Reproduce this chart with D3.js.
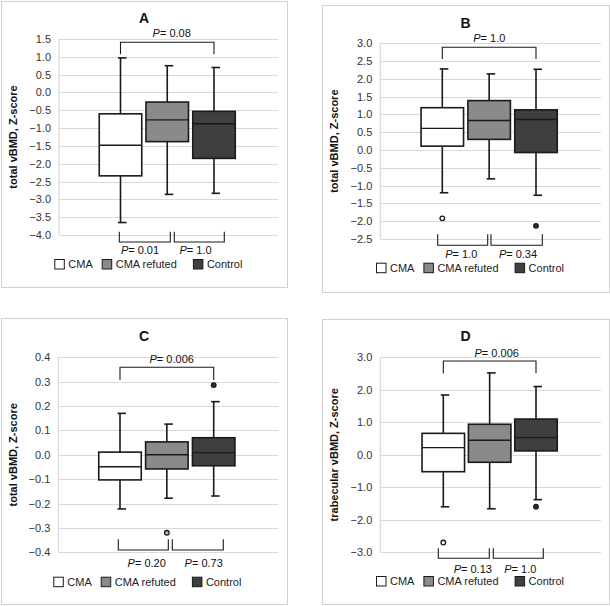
<!DOCTYPE html>
<html><head><meta charset="utf-8">
<script src="https://cdn.jsdelivr.net/npm/d3@7"></script>
<style>body{margin:0;background:#fff}svg{display:block}text{font-family:"Liberation Sans",Arial,sans-serif}</style>
</head><body><svg id="c" width="610" height="606"></svg>
<script>
// ---------- DATA ----------
const categories = ["CMA", "CMA refuted", "Control"];
const panelTitles = ["A", "B", "C", "D"];
const yTitles = ["total vBMD, Z-score", "total vBMD, Z-score", "total vBMD, Z-score", "trabecular vBMD, Z-score"];

const aTicks = [1.5, 1.0, 0.5, 0.0, -0.5, -1.0, -1.5, -2.0, -2.5, -3.0, -3.5, -4.0];
const aMax = [0.97, 0.75, 0.70];
const aQ3 = [-0.60, -0.27, -0.53];
const aMed = [-1.48, -0.77, -0.88];
const aQ1 = [-2.34, -1.38, -1.85];
const aMin = [-3.65, -2.86, -2.83];
const aOutliers = [];
const aP = ["0.08", "0.01", "1.0"];

const bTicks = [3.0, 2.5, 2.0, 1.5, 1.0, 0.5, 0.0, -0.5, -1.0, -1.5, -2.0, -2.5];
const bMax = [2.28, 2.14, 2.27];
const bQ3 = [1.19, 1.39, 1.13];
const bMed = [0.61, 0.83, 0.86];
const bQ1 = [0.11, 0.30, -0.07];
const bMin = [-1.20, -0.81, -1.27];
const bOutliers = [[0, -1.92], [2, -2.13]];
const bP = ["1.0", "1.0", "0.34"];

const cTicks = [0.4, 0.3, 0.2, 0.1, 0.0, -0.1, -0.2, -0.3, -0.4];
const cMax = [0.170, 0.126, 0.218];
const cQ3 = [0.011, 0.053, 0.070];
const cMed = [-0.049, 0.000, 0.009];
const cQ1 = [-0.103, -0.058, -0.045];
const cMin = [-0.222, -0.178, -0.169];
const cOutliers = [[1, -0.32], [2, 0.286]];
const cP = ["0.006", "0.20", "0.73"];

const dTicks = [3.0, 2.0, 1.0, 0.0, -1.0, -2.0, -3.0];
const dMax = [1.84, 2.52, 2.10];
const dQ3 = [0.66, 0.94, 1.10];
const dMed = [0.22, 0.45, 0.53];
const dQ1 = [-0.52, -0.23, 0.12];
const dMin = [-1.60, -1.66, -1.38];
const dOutliers = [[0, -2.70], [2, -1.60]];
const dP = ["0.006", "0.13", "1.0"];

const seriesFill = ["#ffffff", "#8a8a8a", "#3f3f3f"];

// ---------- LAYOUT ----------
const panels = [
  {data:[aMin,aQ1,aMed,aQ3,aMax], out:aOutliers, ticks:aTicks, p:aP,
   frame:[1,1,286,286], x0:59, x1:278, yT:39, yB:235, c:[120.5,214], titleY:23,
   topY:42.3, topLeg:54.3, topLab:[171.7,37],
   br:[[119.3,170.3],[174.3,224.3]], brY:242, brLeg:231.7, labs:[140,195.5], labY:254,
   legY:264, legX:54.3},
  {data:[bMin,bQ1,bMed,bQ3,bMax], out:bOutliers, ticks:bTicks, p:bP,
   frame:[322,5,287,287], x0:380.3, x1:601, yT:43.3, yB:239, c:[442.3,536], titleY:27.7,
   topY:47.3, topLeg:59, topLab:[489.3,41.7],
   br:[[437.7,487.7],[491,542.3]], brY:245.3, brLeg:234.3, labs:[461.3,518], labY:258.3,
   legY:267.7, legX:376},
  {data:[cMin,cQ1,cMed,cQ3,cMax], out:cOutliers, ticks:cTicks, p:cP,
   frame:[1,318,286,286], x0:58.3, x1:278.3, yT:357.3, yB:552.3, c:[120,213.7], titleY:340.7,
   topY:367.3, topLeg:380, topLab:[171.7,363.3],
   br:[[118.3,168.3],[172.3,223.3]], brY:550, brLeg:539.3, labs:[146.7,203.7], labY:567.3,
   legY:581.7, legX:53.3},
  {data:[dMin,dQ1,dMed,dQ3,dMax], out:dOutliers, ticks:dTicks, p:dP,
   frame:[322,319,287,285], x0:380.3, x1:601, yT:357.3, yB:552.3, c:[443.3,536], titleY:340.7,
   topY:361, topLeg:373.3, topLab:[496.7,356.7],
   br:[[438.3,489.3],[493.3,543.3]], brY:558.3, brLeg:548.3, labs:[472.8,520.3], labY:573.3,
   legY:581, legX:376}
];

const svg = d3.select("#c");
const ink = "#1a1a1a";
const fmt = d3.format(".1f");

panels.forEach((P, pi) => {
  const g = svg.append("g");
  const [fx, fy, fw, fh] = P.frame;
  g.append("rect").attr("x", fx + 0.5).attr("y", fy + 0.5).attr("width", fw).attr("height", fh)
    .attr("fill", "#fff").attr("stroke", "#d0d0d0").attr("stroke-width", 1);

  const ext = d3.extent(P.ticks);
  const y = d3.scaleLinear().domain(ext).range([P.yB, P.yT]);
  const x = d3.scalePoint().domain(categories).range(P.c);
  const bw = 42.5;

  // gridlines
  g.append("g").selectAll("line").data(P.ticks).join("line")
    .attr("x1", P.x0).attr("x2", P.x1)
    .attr("y1", d => Math.round(y(d)) + 0.5).attr("y2", d => Math.round(y(d)) + 0.5)
    .attr("stroke", "#d9d9d9").attr("stroke-width", 1.2);
  g.append("line").attr("x1", P.x0).attr("x2", P.x0).attr("y1", P.yT).attr("y2", P.yB)
    .attr("stroke", "#d9d9d9").attr("stroke-width", 1.2);

  // axis labels via d3 axis
  const ax = g.append("g").attr("transform", `translate(${P.x0},0)`)
    .call(d3.axisLeft(y).tickValues(P.ticks).tickFormat(fmt).tickSize(0).tickPadding(8));
  ax.select(".domain").remove();
  ax.selectAll("text").attr("font-size", 11).attr("fill", "#333")
    .attr("font-family", "Liberation Sans, Arial, sans-serif");

  // title
  g.append("text").attr("x", fx + fw / 2).attr("y", P.titleY).attr("text-anchor", "middle")
    .attr("font-size", 14).attr("font-weight", "bold").attr("fill", "#111").text(panelTitles[pi]);

  // y title
  const ytx = fx + (pi % 2 === 0 ? 16 : 16);
  g.append("text").attr("transform", `translate(${ytx},${(P.yT + P.yB) / 2}) rotate(-90)`)
    .attr("text-anchor", "middle").attr("font-size", 11).attr("font-weight", "bold").attr("fill", "#111")
    .text(yTitles[pi]);

  const [mn, q1, md, q3, mx] = P.data;
  categories.forEach((cat, i) => {
    const cx = x(cat);
    // whiskers
    g.append("line").attr("x1", cx).attr("x2", cx).attr("y1", y(mx[i])).attr("y2", y(q3[i]))
      .attr("stroke", ink).attr("stroke-width", 1.6);
    g.append("line").attr("x1", cx).attr("x2", cx).attr("y1", y(q1[i])).attr("y2", y(mn[i]))
      .attr("stroke", ink).attr("stroke-width", 1.6);
    [mx[i], mn[i]].forEach(v => {
      g.append("line").attr("x1", cx - 2.5).attr("x2", cx + 6).attr("y1", y(v)).attr("y2", y(v))
        .attr("stroke", ink).attr("stroke-width", 1.6);
    });
    // box
    g.append("rect").attr("x", cx - bw / 2).attr("y", y(q3[i])).attr("width", bw)
      .attr("height", y(q1[i]) - y(q3[i])).attr("fill", seriesFill[i])
      .attr("stroke", ink).attr("stroke-width", 1.6);
    g.append("line").attr("x1", cx - bw / 2).attr("x2", cx + bw / 2).attr("y1", y(md[i])).attr("y2", y(md[i]))
      .attr("stroke", ink).attr("stroke-width", 1.4);
  });
  // outliers
  g.append("g").selectAll("circle").data(P.out).join("circle")
    .attr("cx", d => x(categories[d[0]])).attr("cy", d => y(d[1])).attr("r", 2.3)
    .attr("fill", d => d[0] === 0 ? "#fff" : d[0] === 1 ? "#bbb" : "#333")
    .attr("stroke", ink).attr("stroke-width", 1.3);

  // top bracket
  const tx1 = x(categories[0]), tx2 = x(categories[2]);
  g.append("path").attr("d", `M${tx1},${P.topLeg}V${P.topY}H${tx2}V${P.topLeg}`)
    .attr("fill", "none").attr("stroke", ink).attr("stroke-width", 1.1);
  const pLabel = (lx, ly, val) => {
    const t = g.append("text").attr("x", lx).attr("y", ly).attr("text-anchor", "middle")
      .attr("font-size", 11).attr("fill", "#111");
    t.append("tspan").attr("font-style", "italic").text("P");
    t.append("tspan").text("= " + val);
  };
  pLabel(P.topLab[0], P.topLab[1], P.p[0]);

  // bottom brackets
  P.br.forEach((b, k) => {
    g.append("path").attr("d", `M${b[0]},${P.brLeg}V${P.brY}H${b[1]}V${P.brLeg}`)
      .attr("fill", "none").attr("stroke", ink).attr("stroke-width", 1.1);
    pLabel(P.labs[k], P.labY, P.p[k + 1]);
  });

  // legend
  const legOff = [0, 47.4, 91.2];
  categories.forEach((cat, i) => {
    const lx = P.legX + d3.sum(legOff.slice(0, i + 1));
    g.append("rect").attr("x", lx + 0.5).attr("y", P.legY - 4.5).attr("width", 9.5).attr("height", 9.5)
      .attr("fill", seriesFill[i]).attr("stroke", ink).attr("stroke-width", 1);
    g.append("text").attr("x", lx + 14).attr("y", P.legY + 4).attr("font-size", 11).attr("fill", "#222")
      .text(cat);
  });
});
</script></body></html>
